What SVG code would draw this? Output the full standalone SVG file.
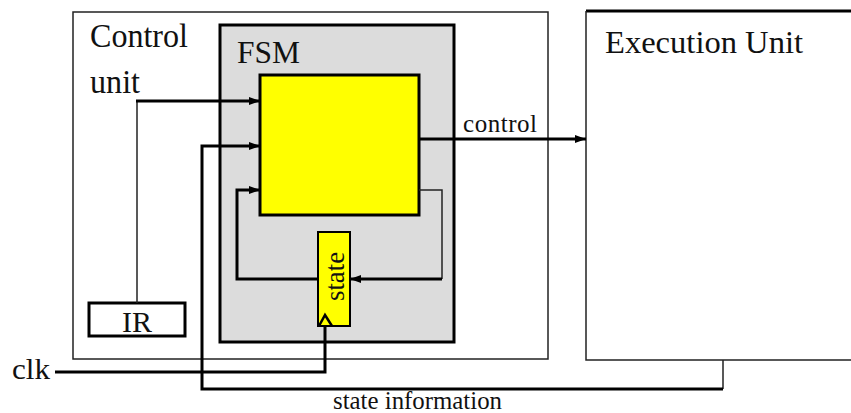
<svg xmlns="http://www.w3.org/2000/svg" width="851" height="413" viewBox="0 0 851 413">
<style>
text{font-family:"Liberation Serif","Times New Roman",serif;fill:#111}
.thin{fill:none;stroke:#222;stroke-width:1.5}
.thick{fill:none;stroke:#000;stroke-width:3}
</style>
<defs>
<marker id="ah" markerUnits="userSpaceOnUse" markerWidth="12" markerHeight="10" refX="11" refY="5" orient="auto">
<path d="M0,1 L11,5 L0,9 Z" fill="#000"/>
</marker>
</defs>
<rect width="851" height="413" fill="#fff"/>
<g id="control-unit">
<rect x="73" y="12" width="475" height="347" class="thin"/>
<text x="90" y="47" font-size="33" textLength="98" lengthAdjust="spacingAndGlyphs">Control</text>
<text x="90" y="93" font-size="33" textLength="50" lengthAdjust="spacingAndGlyphs">unit</text>
</g>
<g id="fsm">
<rect x="220" y="25" width="234" height="317" fill="#dcdcdc" stroke="#000" stroke-width="3"/>
<text x="237" y="63" font-size="32" textLength="63" lengthAdjust="spacingAndGlyphs">FSM</text>
</g>
<g id="logic">
<rect x="260" y="75" width="159" height="140" fill="#ffff00" stroke="#000" stroke-width="3"/>
</g>
<g id="state">
<rect x="318" y="232" width="32" height="94" fill="#ffff00" stroke="#000" stroke-width="2"/>
<text transform="translate(344,301) rotate(-90)" font-size="27" textLength="49" lengthAdjust="spacingAndGlyphs">state</text>
<path d="M319,326 L325,315 L332,326" fill="none" stroke="#000" stroke-width="2.5"/>
</g>
<g id="ir">
<rect x="89" y="303" width="96" height="33" fill="#fff" stroke="#000" stroke-width="3"/>
<text x="122" y="332" font-size="30" textLength="30" lengthAdjust="spacingAndGlyphs">IR</text>
</g>
<g id="execution-unit">
<path d="M851,11 L586,11" class="thick"/>
<path d="M586,11 L586,360 L851,360" class="thin"/>
<text x="605" y="53" font-size="32" textLength="198" lengthAdjust="spacingAndGlyphs">Execution Unit</text>
</g>
<g id="connectors">
<path d="M137,303 L137,101" class="thin"/>
<path d="M136,101 L260,101" class="thick" marker-end="url(#ah)"/>
<path d="M723,360 L723,389" class="thin"/>
<path d="M723,389 L202,389 L202,146 L260,146" class="thick" marker-end="url(#ah)"/>
<path d="M419,139 L586,139" class="thick" marker-end="url(#ah)"/>
<path d="M419,190 L442,190 L442,279" class="thin"/>
<path d="M442,279 L350,279" class="thick" marker-end="url(#ah)"/>
<path d="M318,279 L237,279 L237,190 L260,190" class="thick" marker-end="url(#ah)"/>
<path d="M55,372 L325,372 L325,327" class="thick"/>
<text x="463" y="132" font-size="25" textLength="74">control</text>
<text x="12" y="379" font-size="29" textLength="38" lengthAdjust="spacingAndGlyphs">clk</text>
<text x="333" y="409" font-size="25" textLength="169" lengthAdjust="spacingAndGlyphs">state information</text>
</g>
</svg>
